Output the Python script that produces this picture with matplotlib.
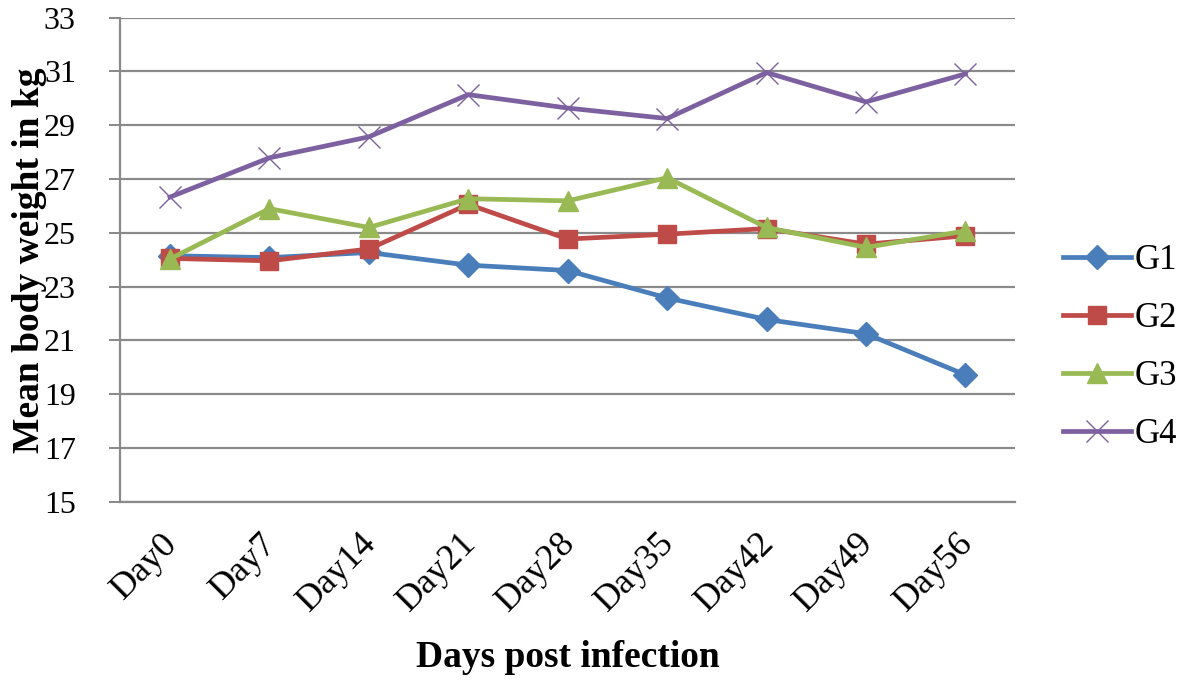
import matplotlib
matplotlib.use("Agg")
import matplotlib.pyplot as plt
from matplotlib.transforms import ScaledTranslation

days = ["Day0", "Day7", "Day14", "Day21", "Day28", "Day35", "Day42", "Day49", "Day56"]
g1 = [24.15, 24.08, 24.27, 23.80, 23.60, 22.58, 21.78, 21.25, 19.72]
g2 = [24.05, 23.96, 24.40, 26.06, 24.77, 24.95, 25.16, 24.58, 24.89]
g3 = [24.03, 25.90, 25.20, 26.27, 26.19, 27.05, 25.20, 24.46, 25.07]
g4 = [26.33, 27.79, 28.57, 30.14, 29.64, 29.25, 30.96, 29.87, 30.91]
yticks = [15, 17, 19, 21, 23, 25, 27, 29, 31, 33]

plt.rcParams['font.family'] = ['Liberation Serif', 'DejaVu Serif']

fig = plt.figure(figsize=(11.79, 6.8), dpi=100)
ax = fig.add_axes([0.102, 0.262, 0.759, 0.712])

x = list(range(len(days)))
styles = [
    ("G1", g1, "#4A7EBB", "D", 12),
    ("G2", g2, "#BE4B48", "s", 13),
    ("G3", g3, "#98B954", "^", 14),
    ("G4", g4, "#7D60A0", "x", 16),
]
for name, vals, col, mk, ms in styles:
    kw = dict(markeredgewidth=1.0) if mk == "x" else dict(markeredgecolor=col)
    ax.plot(x, vals, color=col, linewidth=3.4, marker=mk, markersize=ms,
            label=name, markerfacecolor=col, **kw)

ax.set_xlim(-0.5, len(days) - 0.5)
ax.set_ylim(15, 33)
ax.set_yticks(yticks)
ax.set_xticks(x)
ax.set_xticklabels(days, rotation=45, ha="right", va="top", rotation_mode="anchor")
ax.tick_params(axis="y", labelsize=23, length=8, color="#888888", width=1.4, pad=24)
ax.tick_params(axis="x", labelsize=26, length=0, pad=18)
offset = ScaledTranslation(-9 / 100, 0, fig.dpi_scale_trans)
for lbl in ax.get_xticklabels():
    lbl.set_transform(lbl.get_transform() + offset)
ax.grid(axis="y", color="#8a8a8a", linewidth=1.6)
ax.set_axisbelow(True)
for s in ["top", "right"]:
    ax.spines[s].set_visible(False)
for s in ["left", "bottom"]:
    ax.spines[s].set_color("#8a8a8a")
    ax.spines[s].set_linewidth(1.6)

ax.set_ylabel("Mean body weight in kg", fontsize=27, fontweight="bold")
ax.set_xlabel("Days post infection", fontsize=27, fontweight="bold")
ax.yaxis.set_label_coords(-0.082, 0.5)
ax.xaxis.set_label_coords(0.5, -0.285)

leg = ax.legend(loc="center left", bbox_to_anchor=(1.0536, 0.318), frameon=False,
                fontsize=25, handlelength=1.95, labelspacing=0.72, handletextpad=0.1,
                borderpad=0, borderaxespad=0)

fig.savefig("out.png", dpi=100)
